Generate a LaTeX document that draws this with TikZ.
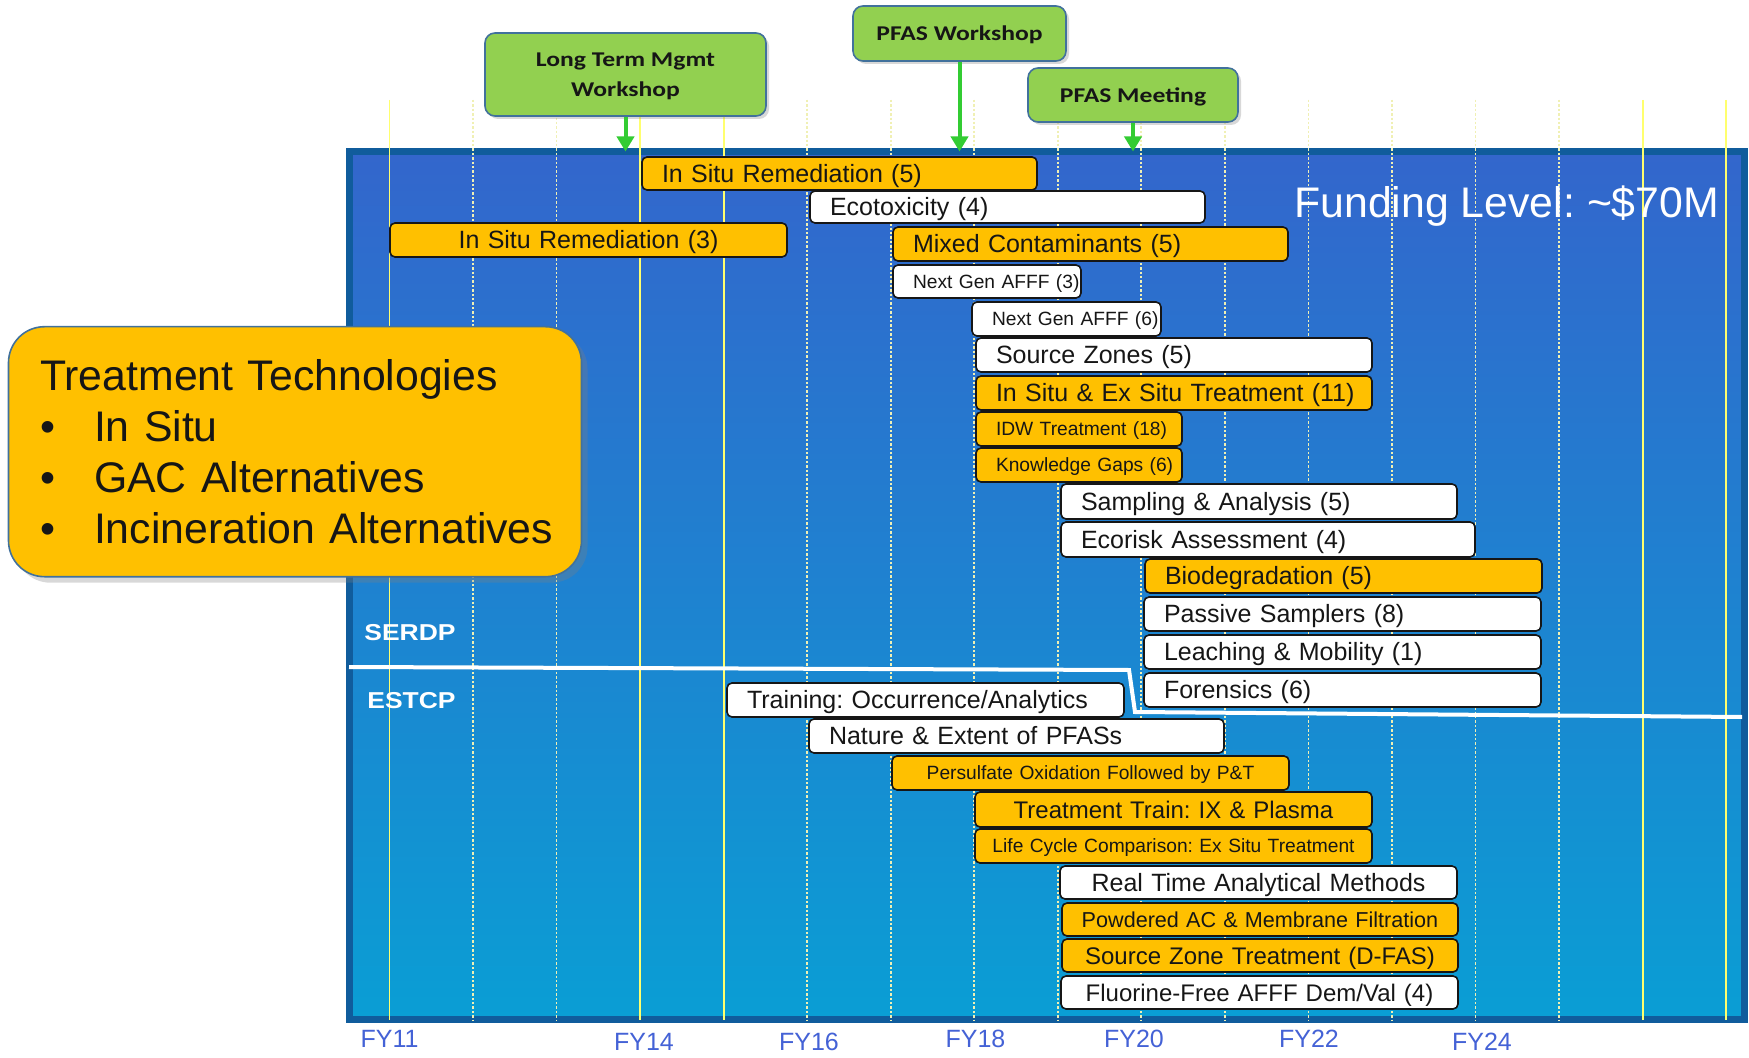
\documentclass[tikz,border=0pt]{standalone}
\usepackage{fontspec}
\setmainfont{Liberation Sans}
\newfontfamily\calwide{Carlito}[FakeStretch=1.22]
\newfontfamily\sanswide{Liberation Sans}[FakeStretch=1.15]
\usetikzlibrary{shadows,arrows.meta}
\frenchspacing
\hyphenpenalty=10000
\definecolor{orangebar}{RGB}{255,192,0}
\definecolor{greenbox}{RGB}{146,208,80}
\definecolor{greenedge}{RGB}{65,113,156}
\definecolor{greenarrow}{RGB}{51,204,51}
\definecolor{boxtop}{RGB}{51,102,204}
\definecolor{boxbot}{RGB}{10,158,212}
\definecolor{boxedge}{RGB}{16,92,156}
\definecolor{fyblue}{RGB}{68,98,214}
\definecolor{gridsolid}{RGB}{255,255,110}
\definecolor{griddot}{RGB}{240,240,180}
\definecolor{bartext}{RGB}{22,22,22}
\newcommand\fsz[1]{\fontsize{#1pt}{#1pt}\selectfont}
% #1 name, #2 styles, #3 left, #4 right, #5 top, #6 bottom, #7 font size, #8 text
\newcommand\gbar[8]{%
  \pgfmathsetmacro\gbw{(#4-#3)*0.5}%
  \pgfmathsetmacro\gbh{(#6-#5)*0.5}%
  \pgfmathsetmacro\gbth{#7*0.716}%
  \node[#2, minimum width=\gbw pt, minimum height=\gbh pt, text width=\gbw pt,
        text height=\gbth pt, text depth=0pt, font=\fsz{#7}]
        (#1) at ({(#3+#4)/2},{(#5+#6)/2}) {#8};%
}
\newcommand\techline[1]{\hspace*{15.8pt}#1}
\begin{document}
\begin{tikzpicture}[x=0.5pt,y=-0.5pt,
  barbase/.style={draw=bartext, line width=0.8pt, rounded corners=2.5pt,
    inner xsep=0pt, inner ysep=0pt, outer sep=0pt, text=bartext},
  obar/.style={barbase, fill=orangebar},
  wbar/.style={barbase, fill=white},
  lbar/.style={align=left, execute at begin node={\hspace*{10pt}}},
  cbar/.style={align=center},
  milestone/.style={draw=greenedge, line width=0.8pt, fill=greenbox, rounded corners=5pt,
    drop shadow={shadow xshift=1.5pt, shadow yshift=-1.5pt, opacity=0.3},
    text=bartext, align=center, inner sep=0pt, text depth=0pt,
    font=\calwide\bfseries\fontsize{10.5pt}{15pt}\selectfont},
  milearrow/.style={draw=greenarrow, line width=2pt, -{Triangle[length=7.5pt,width=8.5pt]}},
  gridsolidline/.style={draw=gridsolid, line width=0.9pt},
  griddotline/.style={draw=griddot, line width=0.9pt, dash pattern=on 1.2pt off 1pt},
  fylabel/.style={text=fyblue, font=\fsz{12.5}, anchor=base, inner sep=0pt},
  progtag/.style={text=white, font=\sanswide\bfseries\fsz{11.5}, anchor=base west, inner sep=0pt},
  fundbox/.style={draw=boxedge, line width=3.5pt, top color=boxtop, bottom color=boxbot,
    inner sep=0pt, outer sep=0pt},
  divider/.style={draw=white, line width=2pt},
  techbox/.style={draw=greenedge, line width=0.8pt, fill=orangebar, rounded corners=18pt,
    drop shadow={shadow xshift=3pt, shadow yshift=-3pt, opacity=0.3},
    text=bartext, align=left, inner xsep=0pt, inner ysep=0pt,
    font=\fontsize{21.4pt}{25.5pt}\selectfont}
]
\useasboundingbox (0,0) rectangle (1749,1058);
\fill[white] (0,0) rectangle (1749,1058);

% main funding frame
\node[fundbox, minimum width=697.5pt, minimum height=434pt] (fund) at (1047,585.5) {};

% year grid
\foreach \k in {1,2,5,6,...,14}
  \draw[griddotline] ({389.4+83.55*\k},100) -- ({389.4+83.55*\k},1020);
\foreach \k in {0,3,4,15,16}
  \draw[gridsolidline] ({389.4+83.55*\k},100) -- ({389.4+83.55*\k},1020);

% SERDP / ESTCP divider
\draw[divider] (349,667) -- (1129,670) -- (1135,712) -- (1742,717);

% milestones
\node[milestone, minimum width=140.5pt, minimum height=41.5pt] (ltm) at (625.5,74.5) {Long Term Mgmt\\Workshop};
\node[milestone, minimum width=106.5pt, minimum height=27.5pt] (pfasws) at (959.5,33.5) {PFAS Workshop};
\node[milestone, minimum width=105pt, minimum height=27pt] (pfasmt) at (1133,95) {PFAS Meeting};
\draw[milearrow] (ltm.south) -- (ltm.south |- fund.north);
\draw[milearrow] (pfasws.south) -- (pfasws.south |- fund.north);
\draw[milearrow] (pfasmt.south) -- (pfasmt.south |- fund.north);

% SERDP bars
\gbar{isr5}{obar,lbar}{642}{1037}{157}{190}{12.5}{In Situ Remediation (5)}
\gbar{ecotox}{wbar,lbar}{810}{1205}{191}{223}{12.5}{Ecotoxicity (4)}
\gbar{isr3}{obar,cbar}{390}{787}{223}{257}{12.5}{In Situ Remediation (3)}
\gbar{mixed}{obar,lbar}{893}{1288}{227}{261}{12.5}{Mixed Contaminants (5)}
\gbar{nga3}{wbar,lbar}{893}{1081}{265}{298}{9.6}{Next Gen AFFF (3)}
\gbar{nga6}{wbar,lbar}{972}{1161}{302}{336}{9.6}{Next Gen AFFF (6)}
\gbar{sz5}{wbar,lbar}{976}{1372}{338}{372}{12.5}{Source Zones (5)}
\gbar{isex}{obar,lbar}{976}{1372}{376}{410}{12.5}{In Situ \& Ex Situ Treatment (11)}
\gbar{idw}{obar,lbar}{976}{1182}{412}{446}{9.6}{IDW Treatment (18)}
\gbar{kgaps}{obar,lbar}{976}{1182}{448}{482}{9.6}{Knowledge Gaps (6)}
\gbar{sampling}{wbar,lbar}{1061}{1457}{484}{519}{12.5}{Sampling \& Analysis (5)}
\gbar{ecorisk}{wbar,lbar}{1061}{1475}{522}{557}{12.5}{Ecorisk Assessment (4)}
\gbar{biodeg}{obar,lbar}{1145}{1542}{559}{593}{12.5}{Biodegradation (5)}
\gbar{passive}{wbar,lbar}{1144}{1541}{597}{631}{12.5}{Passive Samplers (8)}
\gbar{leaching}{wbar,lbar}{1144}{1541}{635}{669}{12.5}{Leaching \& Mobility (1)}
\gbar{forensics}{wbar,lbar}{1144}{1541}{673}{707}{12.5}{Forensics (6)}

% ESTCP bars
\gbar{training}{wbar,lbar}{727}{1124}{683}{717}{12.5}{Training: Occurrence/Analytics}
\gbar{nature}{wbar,lbar}{809}{1224}{719}{753}{12.5}{Nature \& Extent of PFASs}
\gbar{persulfate}{obar,cbar}{892}{1289}{756}{790}{9.6}{Persulfate Oxidation Followed by P\&T}
\gbar{ttrain}{obar,cbar}{975}{1372}{792}{827}{12}{Treatment Train: IX \& Plasma}
\gbar{lcc}{obar,cbar}{975}{1372}{829}{863}{9.6}{Life Cycle Comparison: Ex Situ Treatment}
\gbar{rtam}{wbar,cbar}{1060}{1457}{866}{899}{12.5}{Real Time Analytical Methods}
\gbar{pac}{obar,cbar}{1062}{1458}{903}{936}{10.8}{Powdered AC \& Membrane Filtration}
\gbar{szt}{obar,cbar}{1062}{1458}{939}{972}{12}{Source Zone Treatment (D-FAS)}
\gbar{fluorine}{wbar,cbar}{1061}{1458}{976}{1009}{12}{Fluorine-Free AFFF Dem/Val (4)}

% labels
\node[text=white, font=\fsz{21.4}, anchor=base west, inner sep=0pt] (funding) at (1294,218) {Funding Level: \textasciitilde\$70M};
\node[progtag] (serdp) at (364,640) {SERDP};
\node[progtag] (estcp) at (367,708) {ESTCP};

\node[fylabel] (fy11) at (389.5,1047) {FY11};
\node[fylabel] (fy14) at (644,1050) {FY14};
\node[fylabel] (fy16) at (809,1050) {FY16};
\node[fylabel] (fy18) at (975.5,1047) {FY18};
\node[fylabel] (fy20) at (1134,1047) {FY20};
\node[fylabel] (fy22) at (1309,1047) {FY22};
\node[fylabel] (fy24) at (1482,1050) {FY24};

% treatment technologies callout
\node[techbox, minimum width=286.5pt, minimum height=125pt, text width=286.5pt] (techbox) at (295,451.7)
  {\techline{Treatment Technologies}\\
   \techline{\makebox[27pt][l]{\textbullet}In Situ}\\
   \techline{\makebox[27pt][l]{\textbullet}GAC Alternatives}\\
   \techline{\makebox[27pt][l]{\textbullet}Incineration Alternatives}};
\end{tikzpicture}
\end{document}
